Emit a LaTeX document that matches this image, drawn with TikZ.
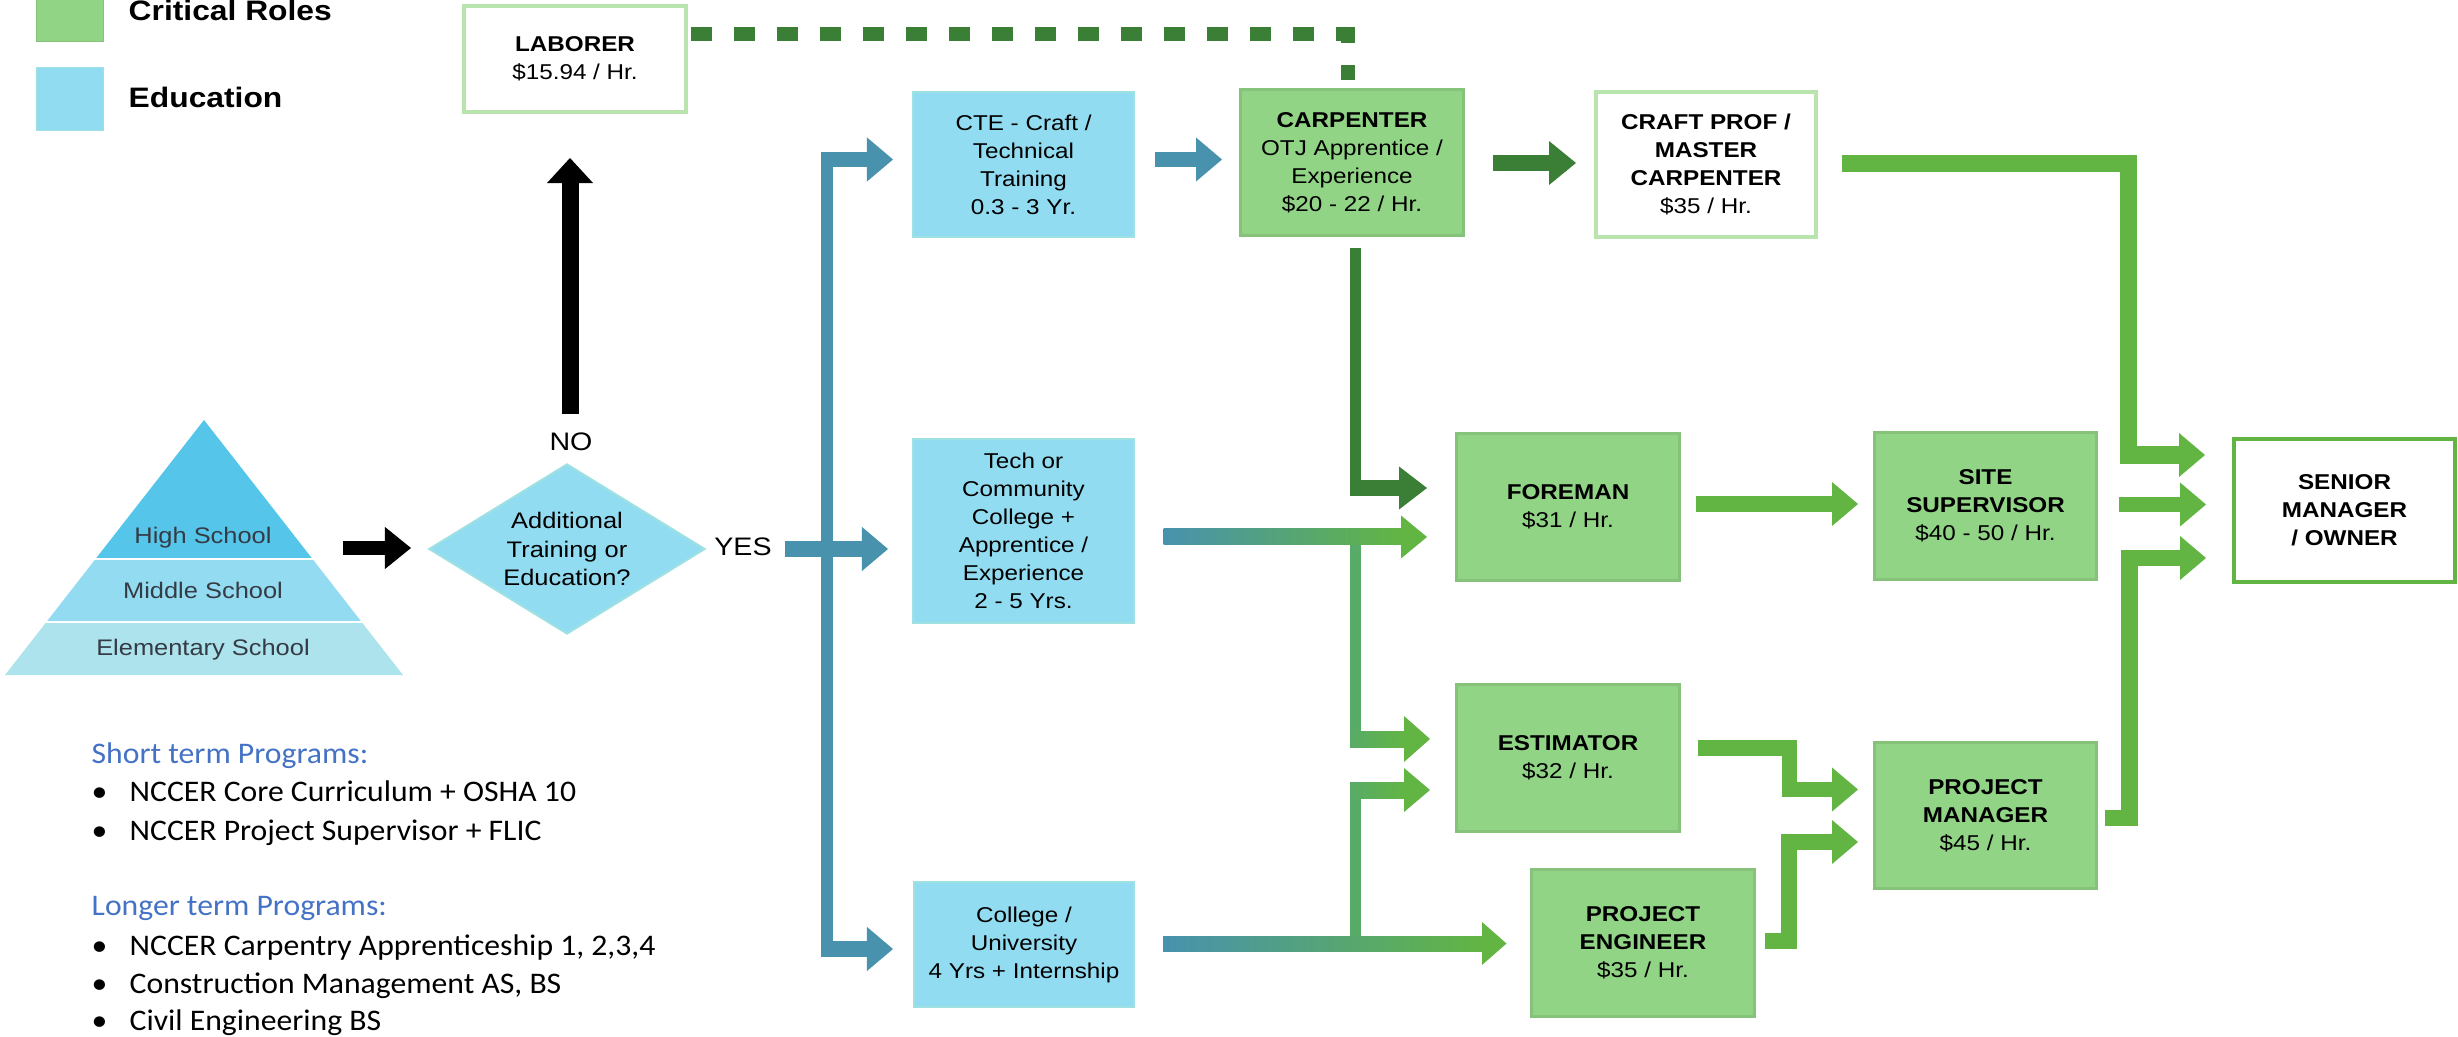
\documentclass[tikz,border=0pt]{standalone}
\usepackage{fontspec}
\setmainfont{Liberation Sans}[FakeStretch=1.13]
\newfontfamily\carl{Carlito}[FakeStretch=1.06]
\usetikzlibrary{arrows.meta,shapes.geometric}
\definecolor{gfill}{HTML}{92D486}
\definecolor{gbord}{HTML}{86C27A}
\definecolor{bfill}{HTML}{92DCF1}
\definecolor{bbord}{HTML}{9FE0E2}
\definecolor{dgreen}{HTML}{3A7F35}
\definecolor{mgreen}{HTML}{62B543}
\definecolor{lgbord}{HTML}{B9E4AE}
\definecolor{conblue}{HTML}{4892AE}
\definecolor{vgreen}{HTML}{58AB66}
\definecolor{pyrtop}{HTML}{55C5EA}
\definecolor{pyrmid}{HTML}{92DBF1}
\definecolor{pyrbot}{HTML}{ADE3EC}
\definecolor{headblue}{HTML}{4472C4}
\definecolor{pyrtext}{HTML}{353B45}
\begin{document}
\begin{tikzpicture}[x=0.01cm,y=-0.01cm,
  boxtext/.style={font=\fontsize{6.1}{7.97}\selectfont, align=center, inner sep=0pt, text=black},
  rolebox/.style={boxtext, draw=gbord, fill=gfill, line width=0.03cm},
  edubox/.style={boxtext, draw=bbord, fill=bfill, line width=0.02cm},
  openbox/.style={boxtext, draw=lgbord, fill=white, line width=0.035cm},
  tipend/.style={-{Triangle[length=0.26cm,width=0.44cm,line width=0pt]}},
  conn/.style={line width=#1, tipend},
  conn/.default=0.16cm,
  pyrlabel/.style={font=\fontsize{6.4}{7.6}\selectfont, text=pyrtext, anchor=base, inner sep=0pt},
  bullettext/.style={font=\carl\fontsize{8.5}{10}\selectfont, anchor=base west, inner sep=0pt},
  legendtext/.style={font=\bfseries\fontsize{8}{9.6}\selectfont, anchor=base west, inner sep=0pt},
  yesno/.style={font=\fontsize{7.2}{8.6}\selectfont, anchor=base, inner sep=0pt}
]
\useasboundingbox (0,0) rectangle (2458,1037);

% ---------- legend ----------
\node[draw=gbord, fill=gfill, line width=0.01cm, minimum width=0.66cm, minimum height=0.46cm, inner sep=0pt] (lgreen) at (70,18) {};
\node[draw=bbord, fill=bfill, line width=0.01cm, minimum width=0.66cm, minimum height=0.62cm, inner sep=0pt] (lblue) at (70,99) {};
\node[legendtext] (lgreentext) at (128,21) {Critical Roles};
\node[legendtext] (lbluetext) at (128,108) {Education};

% ---------- pyramid ----------
\fill[pyrtop] (204,420) -- (312.5,559) -- (95.5,559) -- cycle;
\fill[pyrmid] (95.5,559) -- (312.5,559) -- (361.6,622) -- (46.4,622) -- cycle;
\fill[pyrbot] (46.4,622) -- (361.6,622) -- (403,675) -- (5,675) -- cycle;
\draw[white, line width=0.025cm] (90,559) -- (318,559);
\draw[white, line width=0.025cm] (40,622) -- (368,622);
\node[pyrlabel] (hs) at (203,544) {High School};
\node[pyrlabel] (ms) at (203,599) {Middle School};
\node[pyrlabel] (es) at (203,656) {Elementary School};
\coordinate (pyrout) at (343,548);

% ---------- decision ----------
\node[diamond, aspect=1.62, draw=bbord, fill=bfill, line width=0.02cm,
      minimum width=2.76cm, minimum height=1.70cm, inner sep=0pt,
      font=\fontsize{6.4}{8.1}\selectfont, align=center] (dia) at (567,549)
      {Additional\\Training or\\Education?};
\node[yesno] (no) at (571,451) {NO};
\node[yesno] (yes) at (743,556) {YES};

% ---------- boxes ----------
\node[openbox, minimum width=2.22cm, minimum height=1.06cm] (lab) at (575,59)
  {\textbf{LABORER}\\\$15.94 / Hr.};
\node[edubox, minimum width=2.21cm, minimum height=1.45cm] (cte) at (1023.5,164.5)
  {CTE - Craft /\\Technical\\Training\\0.3 - 3 Yr.};
\node[rolebox, minimum width=2.22cm, minimum height=1.45cm] (carp) at (1352,162.5)
  {\textbf{CARPENTER}\\OTJ Apprentice /\\Experience\\\$20 - 22 / Hr.};
\node[openbox, minimum width=2.20cm, minimum height=1.45cm] (craft) at (1706,164.5)
  {\textbf{CRAFT PROF /}\\\textbf{MASTER}\\\textbf{CARPENTER}\\\$35 / Hr.};
\node[edubox, minimum width=2.21cm, minimum height=1.84cm] (tech) at (1023.5,531)
  {Tech or\\Community\\College +\\Apprentice /\\Experience\\2 - 5 Yrs.};
\node[rolebox, minimum width=2.22cm, minimum height=1.46cm] (fore) at (1568,507)
  {\textbf{FOREMAN}\\\$31 / Hr.};
\node[rolebox, minimum width=2.21cm, minimum height=1.46cm] (site) at (1985.5,506)
  {\textbf{SITE}\\\textbf{SUPERVISOR}\\\$40 - 50 / Hr.};
\node[boxtext, draw=mgreen, fill=white, line width=0.04cm, minimum width=2.21cm, minimum height=1.43cm] (senior) at (2344.5,510.5)
  {\textbf{SENIOR}\\\textbf{MANAGER}\\\textbf{/ OWNER}};
\node[rolebox, minimum width=2.22cm, minimum height=1.46cm] (est) at (1568,758)
  {\textbf{ESTIMATOR}\\\$32 / Hr.};
\node[rolebox, minimum width=2.21cm, minimum height=1.45cm] (pm) at (1985.5,815.5)
  {\textbf{PROJECT}\\\textbf{MANAGER}\\\$45 / Hr.};
\node[rolebox, minimum width=2.22cm, minimum height=1.46cm] (pe) at (1643,943)
  {\textbf{PROJECT}\\\textbf{ENGINEER}\\\$35 / Hr.};
\node[edubox, minimum width=2.20cm, minimum height=1.25cm] (coll) at (1024,944.5)
  {College /\\University\\4 Yrs + Internship};

% ---------- junction coordinates ----------
\coordinate (diain) at (411,548);
\coordinate (noout) at (570,414);
\coordinate (labin) at (570,158);
\coordinate (yesout) at (785,549);
\coordinate (techin) at (888,549);
\coordinate (bustop) at (827,152);
\coordinate (busbot) at (827,957);
\coordinate (ctein) at (893,159.5);
\coordinate (collin) at (893,949);
\coordinate (cteout) at (1155,159.5);
\coordinate (carpin) at (1222,159.5);
\coordinate (carpout) at (1493,163);
\coordinate (craftin) at (1576,163);
\coordinate (labout) at (691,34);
\coordinate (dotcorner) at (1348,34);
\coordinate (dotend) at (1348,80);
\coordinate (carpdown) at (1355.5,248);
\coordinate (carpbend) at (1355.5,496);
\coordinate (forein1) at (1427,488);
\coordinate (foreout) at (1696,504);
\coordinate (sitein) at (1858,504);
\coordinate (estout) at (1698,748);
\coordinate (pmin1) at (1858,789.5);
\coordinate (peout) at (1765,941);
\coordinate (pmin2) at (1858,842);
\coordinate (craftout) at (1842,164);
\coordinate (seniorin1) at (2205,455);
\coordinate (siteout) at (2119,504.5);
\coordinate (seniorin2) at (2206,504.5);
\coordinate (pmout) at (2105,818);
\coordinate (seniorin3) at (2206,558);

% ---------- black arrows ----------
\draw[black, line width=0.14cm, -{Triangle[length=0.26cm,width=0.42cm,line width=0pt]}] (pyrout) -- (diain);
\draw[black, line width=0.17cm, -{Triangle[length=0.25cm,width=0.46cm,line width=0pt]}] (noout) -- (labin);

% ---------- blue connectors ----------
\draw[conblue, conn=0.16cm] (yesout) -- (techin);
\draw[conblue, line width=0.12cm] (bustop) -- (busbot);
\draw[conblue, conn=0.15cm] (821,159.5) -- (ctein);
\draw[conblue, conn=0.16cm] (821,949) -- (collin);
\draw[conblue, conn=0.15cm] (cteout) -- (carpin);

% ---------- dark green ----------
\draw[dgreen, conn=0.16cm, -{Triangle[length=0.27cm,width=0.44cm,line width=0pt]}] (carpout) -- (craftin);
\draw[dgreen, line width=0.14cm, dash pattern=on 0.21cm off 0.22cm] (labout) -- (dotcorner) -- (dotend);
\draw[dgreen, line width=0.11cm] (carpdown) -- (carpbend);
\draw[dgreen, conn=0.16cm, -{Triangle[length=0.28cm,width=0.43cm,line width=0pt]}] (1350,488) -- (forein1);

% ---------- gradient arrows (Tech / College) ----------
\shade[left color=conblue, right color=mgreen] (1163.5,529) rectangle (1402,545);
\fill[mgreen] (1401,515.5) -- (1427,537) -- (1401,558.5) -- cycle;
\fill[vgreen] (1350,545) rectangle (1361,747);
\shade[left color=vgreen, right color=mgreen] (1350,731) rectangle (1405,747);
\fill[mgreen] (1404,716) -- (1430,739) -- (1404,762) -- cycle;

\shade[left color=conblue, right color=mgreen] (1163,936) rectangle (1483,951);
\fill[mgreen] (1482,922) -- (1506.5,943.5) -- (1482,965) -- cycle;
\fill[vgreen] (1350,936) rectangle (1361,782);
\shade[left color=vgreen, right color=mgreen] (1350,782) rectangle (1405,798);
\fill[mgreen] (1404,768) -- (1430,790) -- (1404,812) -- cycle;

% ---------- medium green ----------
\draw[mgreen, conn=0.16cm] (foreout) -- (sitein);
\draw[mgreen, conn=0.15cm] (estout) -- (1789,748) -- (1789,789.5) -- (pmin1);
\draw[mgreen, conn=0.16cm] (peout) -- (1789,941) -- (1789,842) -- (pmin2);
\draw[mgreen, conn=0.17cm] (craftout) -- (2128,164) -- (2128,455) -- (seniorin1);
\draw[mgreen, conn=0.15cm] (siteout) -- (seniorin2);
\draw[mgreen, conn=0.165cm] (pmout) -- (2129.5,818) -- (2129.5,558) -- (seniorin3);

% ---------- programs text ----------
\node[bullettext, text=headblue] (sthead) at (91,763) {Short term Programs:};
\node[bullettext] (b1d) at (91,801) {•};
\node[bullettext] (b1) at (129,801) {NCCER Core Curriculum + OSHA 10};
\node[bullettext] (b2d) at (91,840) {•};
\node[bullettext] (b2) at (129,840) {NCCER Project Supervisor + FLIC};
\node[bullettext, text=headblue] (lthead) at (91,915) {Longer term Programs:};
\node[bullettext] (b3d) at (91,955) {•};
\node[bullettext] (b3) at (129,955) {NCCER Carpentry Apprenticeship 1, 2,3,4};
\node[bullettext] (b4d) at (91,993) {•};
\node[bullettext] (b4) at (129,993) {Construction Management AS, BS};
\node[bullettext] (b5d) at (91,1030) {•};
\node[bullettext] (b5) at (129,1030) {Civil Engineering BS};
\end{tikzpicture}
\end{document}
